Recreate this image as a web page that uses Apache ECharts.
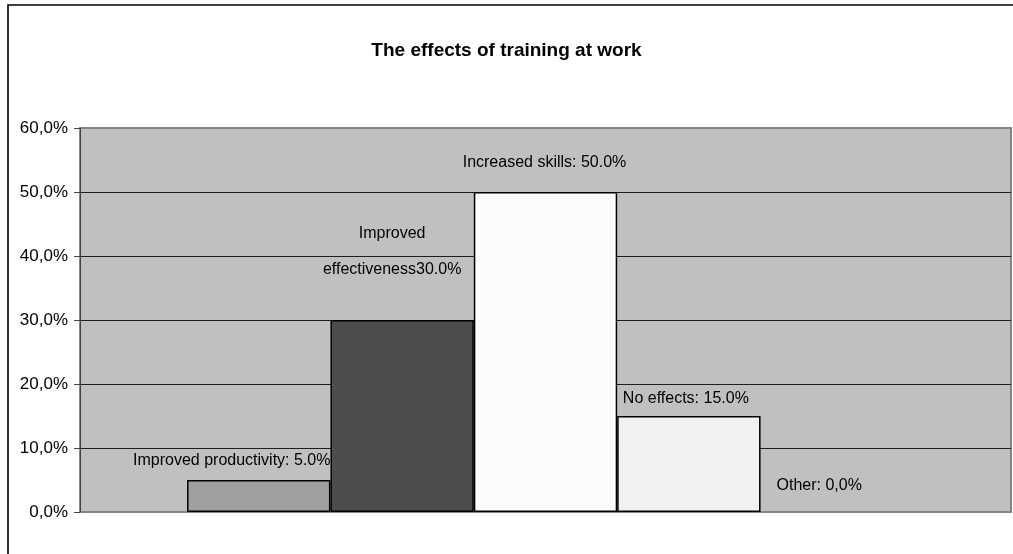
<!DOCTYPE html>
<html>
<head>
<meta charset="utf-8">
<script src="https://cdn.jsdelivr.net/npm/echarts@6/dist/echarts.min.js"></script>
<style>
  html, body { margin: 0; padding: 0; background: #ffffff; }
  #chart { width: 1013px; height: 554px; }
</style>
</head>
<body>
<div id="chart"></div>
<script>
// Survey answers, one bar per answer inside a single category group
const seriesNames = ['Improved productivity', 'Improved effectiveness', 'Increased skills', 'No effects', 'Other'];
const seriesValues = [0.05, 0.30, 0.50, 0.15, 0.0];
const labelPrefixes = ['Improved productivity: ', 'Improved\neffectiveness', 'Increased skills: ', 'No effects: ', 'Other: '];
const decimalMarks = ['.', '.', '.', '.', ','];
const yTicks = [0, 0.1, 0.2, 0.3, 0.4, 0.5, 0.6];

const FONT = '"Liberation Sans Narrow", "Arial Narrow", "Liberation Sans", sans-serif';
const barColors = ['#a0a0a0', '#4d4d4d', '#fcfcfc', '#f2f2f2', '#d9d9d9'];
const barBorders = [1.5, 1.5, 1.5, 1.5, 0];
// label placement relative to each bar's top: [horizontal shift, gap above, line height]
const labelPlacement = [[-27, 9, 20], [-10, 32, 36], [-1, 19, 20], [-3, 7, 20], [-13, 16, 20]];

function pct(v, mark) {
  return (v * 100).toFixed(1).replace('.', mark) + '%';
}

const chart = echarts.init(document.getElementById('chart'), null, { renderer: 'canvas' });

const series = seriesNames.map((name, i) => ({
  name: name,
  type: 'bar',
  data: [seriesValues[i]],
  barGap: '0%',
  barCategoryGap: '23%',
  itemStyle: { color: barColors[i], borderColor: '#000000', borderWidth: barBorders[i] },
  label: {
    show: true,
    position: 'top',
    distance: labelPlacement[i][1],
    offset: [labelPlacement[i][0], 0],
    fontFamily: FONT,
    fontSize: 16,
    color: '#000000',
    lineHeight: labelPlacement[i][2],
    align: 'center',
    formatter: () => labelPrefixes[i] + pct(seriesValues[i], decimalMarks[i])
  }
}));

chart.setOption({
  animation: false,
  backgroundColor: '#ffffff',
  title: {
    text: 'The effects of training at work',
    left: 'center',
    top: 41,
    padding: 0,
    textStyle: { fontFamily: FONT, fontWeight: 'bold', fontSize: 19, color: '#000000' }
  },
  graphic: [{
    type: 'rect',
    shape: { x: 8, y: 5, width: 1100, height: 700 },
    style: { fill: 'none', stroke: '#000000', lineWidth: 1.6 },
    silent: true,
    z: 100
  }],
  grid: {
    left: 80, right: 2, top: 128, bottom: 42,
    show: true,
    backgroundColor: '#c0c0c0',
    borderColor: '#858585',
    borderWidth: 2
  },
  xAxis: {
    type: 'category',
    data: [''],
    axisLine: { show: false },
    axisTick: { show: false },
    axisLabel: { show: false }
  },
  yAxis: {
    type: 'value',
    min: yTicks[0],
    max: yTicks[yTicks.length - 1],
    interval: 0.1,
    axisLine: { show: true, lineStyle: { color: '#444444', width: 1 } },
    axisTick: { show: true, length: 6, inside: false, lineStyle: { color: '#444444' } },
    axisLabel: {
      fontFamily: FONT,
      fontSize: 17,
      color: '#000000',
      margin: 12,
      formatter: v => pct(v, ',')
    },
    splitLine: {
      show: true,
      lineStyle: {
        color: ['#858585', '#1e1e1e', '#1e1e1e', '#1e1e1e', '#1e1e1e', '#1e1e1e', '#858585'],
        width: 1
      }
    }
  },
  series: series
});
</script>
</body>
</html>
